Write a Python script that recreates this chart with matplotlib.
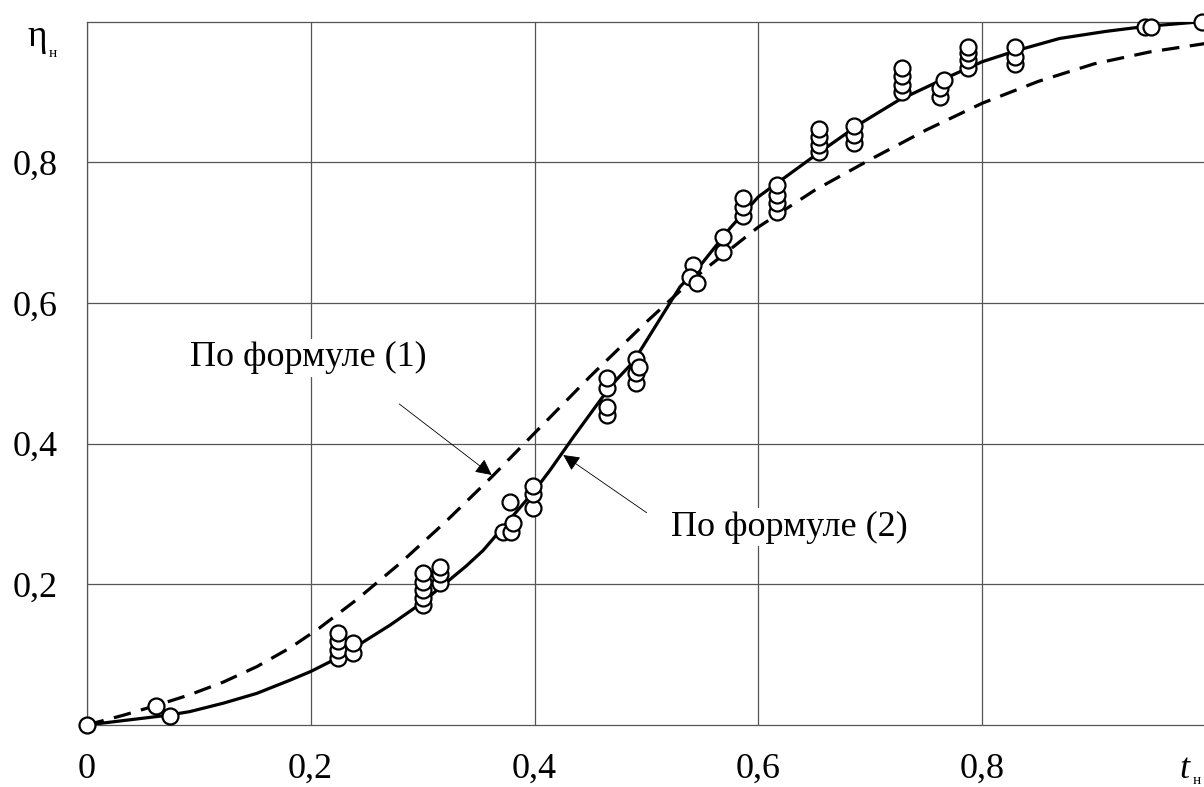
import matplotlib
matplotlib.use("Agg")
import matplotlib.pyplot as plt
from matplotlib.patches import FancyArrowPatch

plt.rcParams['font.family'] = ['Liberation Serif', 'DejaVu Serif']

# ---- data ----
# curve by formula (1) (dashed)
f1_x = [0, 0.033, 0.0625, 0.092, 0.122, 0.152, 0.182, 0.208, 0.241, 0.28, 0.32, 0.362,
        0.405, 0.45, 0.5, 0.53, 0.55, 0.6, 0.65, 0.7, 0.75, 0.8, 0.85, 0.9, 0.95, 1.0]
f1_y = [0, 0.014, 0.028, 0.043, 0.061, 0.083, 0.110, 0.138, 0.178, 0.230, 0.288, 0.353,
        0.423, 0.496, 0.573, 0.617, 0.645, 0.708, 0.760, 0.804, 0.846, 0.884, 0.915,
        0.940, 0.957, 0.969]
# curve by formula (2) (solid)
f2_x = [0, 0.073, 0.092, 0.122, 0.152, 0.182, 0.2, 0.22, 0.247, 0.271, 0.298, 0.339,
        0.354, 0.4, 0.414, 0.435, 0.46, 0.473, 0.487, 0.494, 0.53, 0.55, 0.575, 0.6,
        0.65, 0.691, 0.725, 0.765, 0.8, 0.831, 0.869, 0.91, 0.945, 0.997]
f2_y = [0, 0.014, 0.019, 0.031, 0.045, 0.064, 0.076, 0.092, 0.118, 0.142, 0.172, 0.226,
        0.248, 0.333, 0.3625, 0.41, 0.4645, 0.4905, 0.514, 0.531, 0.623, 0.657, 0.707,
        0.751, 0.809, 0.855, 0.888, 0.918, 0.943, 0.959, 0.976, 0.986, 0.993, 1.0]
# experimental points
exp_x = [0, 0.0616, 0.074,
         0.2247, 0.2247, 0.2247, 0.2247, 0.238, 0.238,
         0.3007, 0.3007, 0.3007, 0.3007, 0.3007, 0.3156, 0.3156, 0.3156,
         0.372, 0.3787, 0.3805, 0.3781, 0.399, 0.399, 0.399,
         0.4645, 0.4645, 0.4645, 0.4645, 0.491, 0.491, 0.491, 0.493,
         0.5419, 0.539, 0.5449,
         0.5687, 0.5687, 0.586, 0.586, 0.5865,
         0.6163, 0.6163, 0.6163, 0.6163,
         0.6544, 0.6544, 0.6544, 0.6544, 0.6854, 0.6854, 0.6854,
         0.728, 0.728, 0.728, 0.728, 0.762, 0.762, 0.766,
         0.7875, 0.7875, 0.7875, 0.7875, 0.829, 0.829, 0.829,
         0.9454, 0.9508, 0.996]
exp_y = [0, 0.027, 0.013,
         0.095, 0.107, 0.119, 0.131, 0.103, 0.117,
         0.170, 0.181, 0.192, 0.204, 0.216, 0.202, 0.215, 0.225,
         0.275, 0.275, 0.287, 0.3175, 0.309, 0.329, 0.340,
         0.4407, 0.4525, 0.479, 0.494, 0.486, 0.500, 0.521, 0.509,
         0.654, 0.637, 0.628,
         0.673, 0.694, 0.723, 0.737, 0.749,
         0.730, 0.742, 0.753, 0.768,
         0.814, 0.825, 0.836, 0.848, 0.828, 0.839, 0.851,
         0.900, 0.910, 0.922, 0.934, 0.893, 0.905, 0.917,
         0.934, 0.945, 0.955, 0.964, 0.940, 0.950, 0.964,
         0.992, 0.992, 1.0]

x_ticks = [0, 0.2, 0.4, 0.6, 0.8]
x_tick_labels = ['0', '0,2', '0,4', '0,6', '0,8']
y_ticks = [0.2, 0.4, 0.6, 0.8]
y_tick_labels = ['0,2', '0,4', '0,6', '0,8']

label1 = 'По формуле (1)'
label2 = 'По формуле (2)'

W, H = 1204, 787
fig = plt.figure(figsize=(W / 100, H / 100), dpi=100)
left, right, bottom, top = 86.7, 1204, 725, 21.6
ax = fig.add_axes([left / W, 1 - bottom / H, (right - left) / W, (bottom - top) / H])
ax.set_xlim(0, (right - left) / 1119.5)
ax.set_ylim(0, 1.0)

gcol = '#555555'
for s in ['left', 'bottom', 'top']:
    ax.spines[s].set_color(gcol)
    ax.spines[s].set_linewidth(0.9)
ax.spines['right'].set_visible(False)

ax.set_xticks(x_ticks)
ax.set_xticklabels(x_tick_labels, fontsize=26)
ax.set_yticks(y_ticks)
ax.set_yticklabels(y_tick_labels, fontsize=26)
ax.tick_params(length=0)
ax.tick_params(axis='x', pad=20)
ax.tick_params(axis='y', pad=21)
ax.grid(True, color=gcol, linewidth=0.9)
ax.set_axisbelow(True)

ax.plot(f1_x, f1_y, color='black', lw=2.3, linestyle=(0, (5.5, 3.3)), zorder=3,
        solid_joinstyle='round', dash_joinstyle='round')
ax.plot(f2_x, f2_y, color='black', lw=2.3, zorder=3, solid_joinstyle='round')
ax.plot(exp_x, exp_y, 'o', ms=11.5, mfc='white', mec='black', mew=1.6, zorder=4,
        clip_on=False)

# annotations
ax.text(0.1977, 0.5218, label1, fontsize=26, ha='center', va='center', zorder=5,
        bbox=dict(facecolor='white', edgecolor='none', pad=2))
ax.text(0.628, 0.2815, label2, fontsize=26, ha='center', va='center', zorder=5,
        bbox=dict(facecolor='white', edgecolor='none', pad=2))

for (x0, y0), (x1, y1) in [((0.2792, 0.4564), (0.3618, 0.3554)),
                           ((0.5002, 0.3018), (0.4257, 0.3838))]:
    arr = FancyArrowPatch((x0, y0), (x1, y1), arrowstyle='-|>,head_length=10,head_width=5',
                          mutation_scale=1, color='black', lw=0.6, zorder=6,
                          shrinkA=0, shrinkB=0)
    ax.add_patch(arr)

# axis labels
fig.text(27 / W, 1 - 46 / H, 'η', fontsize=27, ha='left', va='baseline')
fig.text(49 / W, 1 - 57 / H, 'н', fontsize=11, ha='left', va='baseline')
fig.text(1179 / W, 1 - 778 / H, 't', fontsize=26, style='italic', ha='left', va='baseline')
fig.text(1193 / W, 1 - 784 / H, 'н', fontsize=11, ha='left', va='baseline')

fig.savefig('out.png', dpi=100, facecolor='white')
